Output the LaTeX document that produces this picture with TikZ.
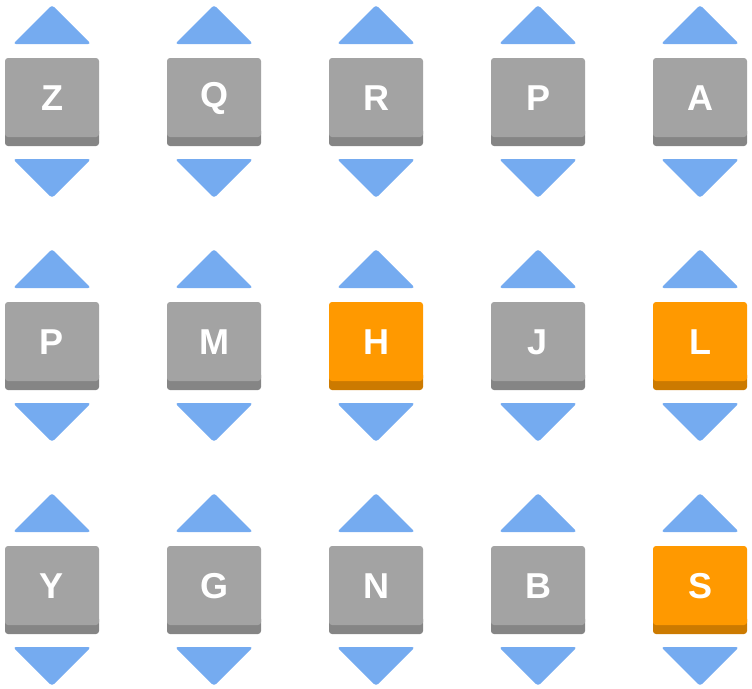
\documentclass[tikz,border=0pt]{standalone}
\usepackage{fontspec}
\setmainfont{Liberation Sans}
\definecolor{tile}{HTML}{A3A3A3}
\definecolor{tiled}{HTML}{858585}
\definecolor{org}{HTML}{FF9900}
\definecolor{orgd}{HTML}{CC7A00}
\definecolor{arr}{HTML}{75ABF0}
\tikzset{
  arrow/.style={fill=arr, rounded corners=3pt},
  lbl/.style={text=white, font=\fontsize{36}{36}\selectfont\bfseries, inner sep=0pt}
}
\newcommand{\tilecell}[5]{% x, y(top), letter, base color, dark color
  \fill[#5, rounded corners=3pt] (#1-47pt,-#2-88pt) rectangle (#1+47pt,-#2-70pt);
  \fill[#4, rounded corners=3pt] (#1-47pt,-#2-79pt) rectangle (#1+47pt,-#2);
  \node[lbl] (t#3#1#2) at (#1,-#2-40pt) {#3};
  \fill[arrow] (#1-39pt,-#2+14pt) -- (#1,-#2+53pt) -- (#1+39pt,-#2+14pt) -- cycle;
  \fill[arrow] (#1-39pt,-#2-101pt) -- (#1,-#2-140pt) -- (#1+39pt,-#2-101pt) -- cycle;
}
\begin{document}
\begin{tikzpicture}[x=1pt,y=1pt]
\useasboundingbox (0,0) rectangle (752,-688);
\tilecell{52pt}{58pt}{Z}{tile}{tiled}
\tilecell{214pt}{58pt}{Q}{tile}{tiled}
\tilecell{376pt}{58pt}{R}{tile}{tiled}
\tilecell{538pt}{58pt}{P}{tile}{tiled}
\tilecell{700pt}{58pt}{A}{tile}{tiled}
\tilecell{52pt}{302pt}{P}{tile}{tiled}
\tilecell{214pt}{302pt}{M}{tile}{tiled}
\tilecell{376pt}{302pt}{H}{org}{orgd}
\tilecell{538pt}{302pt}{J}{tile}{tiled}
\tilecell{700pt}{302pt}{L}{org}{orgd}
\tilecell{52pt}{546pt}{Y}{tile}{tiled}
\tilecell{214pt}{546pt}{G}{tile}{tiled}
\tilecell{376pt}{546pt}{N}{tile}{tiled}
\tilecell{538pt}{546pt}{B}{tile}{tiled}
\tilecell{700pt}{546pt}{S}{org}{orgd}
\end{tikzpicture}
\end{document}
